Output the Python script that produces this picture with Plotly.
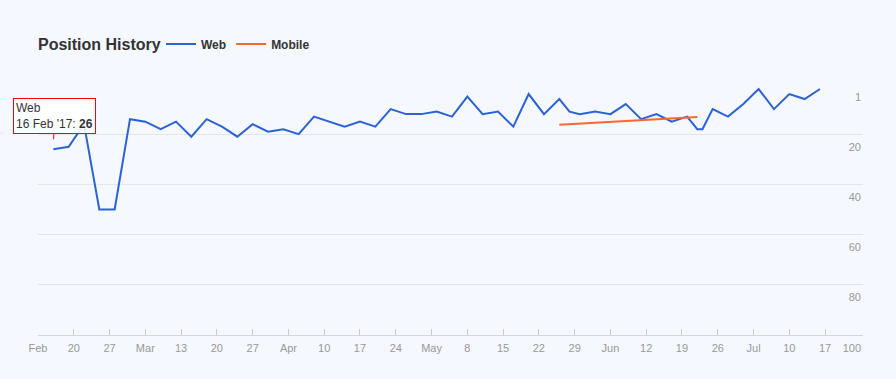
import plotly.graph_objects as go

# ---- data ----
web_dates = ["2017-02-16", "2017-02-19", "2017-02-22", "2017-02-25", "2017-02-28",
             "2017-03-03", "2017-03-06", "2017-03-09", "2017-03-12", "2017-03-15",
             "2017-03-18", "2017-03-21", "2017-03-24", "2017-03-27", "2017-03-30",
             "2017-04-02", "2017-04-05", "2017-04-08", "2017-04-14", "2017-04-17",
             "2017-04-20", "2017-04-23", "2017-04-26", "2017-04-29", "2017-05-02",
             "2017-05-05", "2017-05-08", "2017-05-11", "2017-05-14", "2017-05-17",
             "2017-05-20", "2017-05-23", "2017-05-26", "2017-05-28", "2017-05-30",
             "2017-06-02", "2017-06-05", "2017-06-08", "2017-06-11", "2017-06-14",
             "2017-06-17", "2017-06-20", "2017-06-22", "2017-06-23", "2017-06-25",
             "2017-06-28", "2017-07-01", "2017-07-04", "2017-07-07", "2017-07-10",
             "2017-07-13", "2017-07-16"]
web_values = [26, 25, 16, 50, 50, 14, 15, 18, 15, 21,
              14, 17, 21, 16, 19, 18, 20, 13, 17, 15,
              17, 10, 12, 12, 11, 13, 5, 12, 11, 17,
              4, 12, 6, 11, 12, 11, 12, 8, 14, 12,
              15, 13, 18, 18, 10, 13, 8, 2, 10, 4,
              6, 2]

mobile_dates = ["2017-05-26", "2017-06-22"]
mobile_values = [16.2, 13.1]

x_tick_dates = ["2017-02-13", "2017-02-20", "2017-02-27", "2017-03-06", "2017-03-13",
                "2017-03-20", "2017-03-27", "2017-04-03", "2017-04-10", "2017-04-17",
                "2017-04-24", "2017-05-01", "2017-05-08", "2017-05-15", "2017-05-22",
                "2017-05-29", "2017-06-05", "2017-06-12", "2017-06-19", "2017-06-26",
                "2017-07-03", "2017-07-10", "2017-07-17"]
x_tick_labels = ["Feb", "20", "27", "Mar", "13", "20", "27", "Apr", "10", "17",
                 "24", "May", "8", "15", "22", "29", "Jun", "12", "19", "26",
                 "Jul", "10", "17"]

y_tick_values = [0, 20, 40, 60, 80, 100]
y_tick_labels = ["1", "20", "40", "60", "80", "100"]

tooltip_series = "Web"
tooltip_date_label = "16 Feb '17"

# ---- style ----
FONT = "Liberation Sans, Arial, Helvetica, sans-serif"
BG = "#f5f8fe"
WEB_COLOR = "#2b63d6"
MOBILE_COLOR = "#f26b2c"

fig = go.Figure()
fig.add_trace(go.Scatter(
    x=web_dates, y=web_values, mode="lines", name="Web",
    line=dict(color=WEB_COLOR, width=2),
    hovertemplate="Web<br>%{x|%d %b '%y}: <b>%{y}</b><extra></extra>",
))
fig.add_trace(go.Scatter(
    x=mobile_dates, y=mobile_values, mode="lines", name="Mobile",
    line=dict(color=MOBILE_COLOR, width=2),
    hovertemplate="Mobile<br>%{x|%d %b '%y}: <b>%{y}</b><extra></extra>",
))

# static tooltip like the reference
fig.add_annotation(
    x=web_dates[0], y=web_values[0], xref="x", yref="y",
    text=f"{tooltip_series}<br>{tooltip_date_label}: <b>{web_values[0]}</b>",
    align="left", showarrow=True, arrowcolor="#ff0000", arrowwidth=1,
    arrowhead=0, ax=1, ay=-33, standoff=10,
    font=dict(family=FONT, size=12, color="#333333"),
    bgcolor="rgba(255,255,255,0.9)", bordercolor="#ff0000", borderwidth=1,
    borderpad=2,
)

fig.update_layout(
    width=896, height=379,
    margin=dict(l=38, r=33, t=84, b=44),
    paper_bgcolor=BG, plot_bgcolor=BG,
    font=dict(family=FONT, size=11, color="#999999"),
    title=dict(
        text="Position History", x=38 / 896, xref="container", xanchor="left",
        y=1 - 44 / 379, yref="container", yanchor="middle",
        font=dict(family=FONT, size=16, color="#333333", weight="bold"),
    ),
    legend=dict(
        orientation="h", xref="container", yref="container",
        x=161 / 896, xanchor="left", y=1 - 44 / 379, yanchor="middle",
        font=dict(family=FONT, size=12, color="#333333", weight="bold"),
        bgcolor="rgba(0,0,0,0)", itemclick=False, itemdoubleclick=False,
    ),
    xaxis=dict(
        type="date", range=["2017-02-13", "2017-07-24 10:00"],
        tickmode="array", tickvals=x_tick_dates, ticktext=x_tick_labels,
        ticks="inside", ticklen=6, tickcolor="#cccccc", tickwidth=1,
        showline=True, linecolor="#d6d6d6", linewidth=1,
        showgrid=False, zeroline=False, ticklabelstandoff=3,
        tickfont=dict(family=FONT, size=11, color="#999999"),
        fixedrange=True,
    ),
    yaxis=dict(
        range=[100, 0], side="right",
        tickmode="array", tickvals=y_tick_values, ticktext=y_tick_labels,
        ticklabelposition="inside bottom", ticklabeloverflow="allow",
        ticklabelstandoff=-1, ticklabelshift=-5,
        showgrid=True, gridcolor="#e6e6e6", gridwidth=1,
        zeroline=False, showline=False, ticks="",
        tickfont=dict(family=FONT, size=11, color="#999999"),
        fixedrange=True,
    ),
    showlegend=True,
)

fig.write_html("out.html", config={"displayModeBar": False},
               post_script="document.body.style.margin='0px';")
